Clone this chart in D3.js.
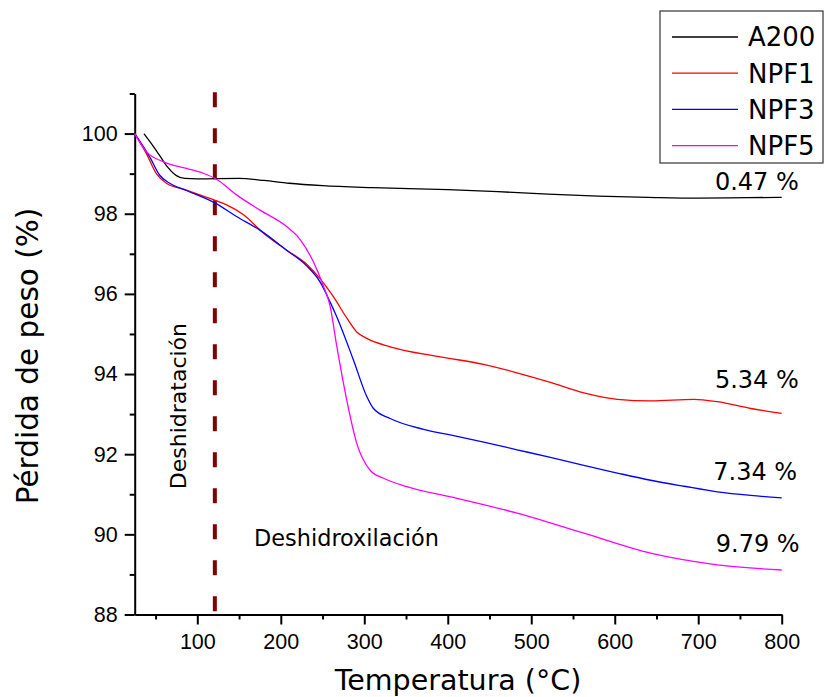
<!DOCTYPE html>
<html>
<head>
<meta charset="utf-8">
<script src="https://cdn.jsdelivr.net/npm/d3@7"></script>
<style>
  body { margin: 0; background: #fff; }
  svg { display: block; font-family: "DejaVu Sans", Verdana, sans-serif; }
</style>
</head>
<body>
<svg id="chart" width="825" height="697"></svg>
<script>
// series names and colours (legend order)
const seriesNames = ['A200', 'NPF1', 'NPF3', 'NPF5'];
const seriesColors = ['#000000', '#ff0000', '#0000ff', '#ff00ff'];

// [temperature °C, weight %]
const a200 = [[36, 100.0], [45, 99.75], [55, 99.45], [65, 99.15], [75, 98.95], [85, 98.88], [100, 98.87],
  [150, 98.88], [180, 98.83], [210, 98.76], [250, 98.70], [310, 98.65], [400, 98.60], [460, 98.55],
  [520, 98.49], [580, 98.44], [640, 98.41], [700, 98.39], [760, 98.40], [800, 98.41]];
const npf1 = [[25, 100.0], [39, 99.5], [51, 99.0], [63, 98.76], [87, 98.59], [107, 98.44], [123, 98.32],
  [135, 98.22], [155, 97.98], [179, 97.52], [207, 97.09], [231, 96.74], [247, 96.38], [263, 95.93],
  [279, 95.40], [291, 95.05], [303, 94.89], [331, 94.68], [391, 94.43], [443, 94.24], [483, 94.03],
  [523, 93.79], [563, 93.53], [603, 93.37], [643, 93.33], [695, 93.37], [723, 93.31], [763, 93.14], [800, 93.02]];
const npf3 = [[25, 100.0], [43, 99.42], [55, 98.96], [67, 98.76], [87, 98.58], [122, 98.26], [147, 97.93],
  [175, 97.59], [207, 97.09], [231, 96.70], [247, 96.30], [259, 95.80], [267, 95.43], [287, 94.35],
  [303, 93.44], [311, 93.14], [331, 92.89], [371, 92.62], [403, 92.48], [443, 92.30], [483, 92.11],
  [523, 91.92], [563, 91.72], [603, 91.53], [643, 91.35], [683, 91.20], [723, 91.06], [763, 90.97], [800, 90.91]];
const npf5 = [[25, 100.0], [39, 99.55], [59, 99.30], [87, 99.13], [107, 99.01], [123, 98.86], [147, 98.47],
  [175, 98.09], [207, 97.68], [223, 97.36], [239, 96.80], [251, 96.20], [259, 95.70], [267, 94.70],
  [279, 93.35], [291, 92.27], [307, 91.60], [323, 91.40], [351, 91.19], [411, 90.90], [483, 90.53],
  [563, 90.03], [643, 89.53], [723, 89.24], [800, 89.11]];
const seriesData = [a200, npf1, npf3, npf5];

// mass-loss labels: [text, temperature, weight]
const lossLabels = [['0.47 %', 720, 98.59], ['5.34 %', 720, 93.64], ['7.34 %', 718, 91.36], ['9.79 %', 721, 89.57]];

const xTicks = [100, 200, 300, 400, 500, 600, 700, 800];
const xMinor = [50, 150, 250, 350, 450, 550, 650, 750];
const yTicks = [88, 90, 92, 94, 96, 98, 100];
const yMinor = [89, 91, 93, 95, 97, 99, 101];
const dehydrationLimit = 121;

const svg = d3.select('#chart');

const x = d3.scaleLinear().domain([25, 800]).range([134.7, 781.7]);
const y = d3.scaleLinear().domain([88, 101]).range([614.5, 93.5]);

function styleAxis(g) {
  g.select('.domain').attr('stroke', '#000').attr('stroke-width', 2);
  g.selectAll('.tick line').attr('stroke', '#000').attr('stroke-width', 2);
  g.selectAll('.tick text').attr('fill', '#000').style('font-size', '21.5px');
}

// minor ticks first, major axes on top
svg.append('g')
  .attr('transform', `translate(0,${y(88)})`)
  .call(d3.axisBottom(x).tickValues(xMinor).tickSize(5).tickFormat(''))
  .call(g => g.select('.domain').remove())
  .call(g => g.selectAll('.tick line').attr('stroke', '#000').attr('stroke-width', 2));

svg.append('g')
  .attr('transform', `translate(${x(25)},0)`)
  .call(d3.axisLeft(y).tickValues(yMinor).tickSize(5).tickFormat(''))
  .call(g => g.select('.domain').remove())
  .call(g => g.selectAll('.tick line').attr('stroke', '#000').attr('stroke-width', 2));

svg.append('g')
  .attr('transform', `translate(0,${y(88)})`)
  .call(d3.axisBottom(x).tickValues(xTicks).tickSize(10).tickSizeOuter(0).tickPadding(9))
  .call(styleAxis);

svg.append('g')
  .attr('transform', `translate(${x(25)},0)`)
  .call(d3.axisLeft(y).tickValues(yTicks).tickSize(10).tickSizeOuter(0).tickPadding(7))
  .call(styleAxis);

// axis titles
svg.append('text')
  .attr('x', 458)
  .attr('y', 690)
  .attr('text-anchor', 'middle')
  .style('font-size', '28.5px')
  .text('Temperatura (°C)');

svg.append('text')
  .attr('transform', 'translate(38,356) rotate(-90)')
  .attr('text-anchor', 'middle')
  .style('font-size', '29.5px')
  .text('Pérdida de peso (%)');

// dehydration limit
svg.append('line')
  .attr('x1', x(dehydrationLimit))
  .attr('x2', x(dehydrationLimit))
  .attr('y1', y(101) - 1.2)
  .attr('y2', y(88))
  .attr('stroke', '#800000')
  .attr('stroke-width', 4)
  .attr('stroke-dasharray', '15 21');

// curves
const line = d3.line()
  .x(d => x(d[0]))
  .y(d => y(d[1]))
  .curve(d3.curveMonotoneX);

svg.append('g')
  .selectAll('path')
  .data(seriesData)
  .join('path')
  .attr('d', line)
  .attr('fill', 'none')
  .attr('stroke', (d, i) => seriesColors[i])
  .attr('stroke-width', 1.3);

// region annotations
svg.append('text')
  .attr('transform', `translate(${x(86.5)},${y(93.2)}) rotate(-90)`)
  .attr('text-anchor', 'middle')
  .style('font-size', '22px')
  .text('Deshidratación');

svg.append('text')
  .attr('x', x(168))
  .attr('y', y(89.71))
  .style('font-size', '22.4px')
  .text('Deshidroxilación');

svg.append('g')
  .selectAll('text')
  .data(lossLabels)
  .join('text')
  .attr('x', d => x(d[1]))
  .attr('y', d => y(d[2]))
  .style('font-size', '24px')
  .text(d => d[0]);

// legend
const legend = svg.append('g').attr('transform', 'translate(660,11)');
legend.append('rect')
  .attr('width', 163)
  .attr('height', 152)
  .attr('fill', '#fff')
  .attr('stroke', '#333')
  .attr('stroke-width', 1.2);

const item = legend.selectAll('.item')
  .data(seriesNames)
  .join('g')
  .attr('class', 'item')
  .attr('transform', (d, i) => `translate(0,${26 + i * 36.2})`);

item.append('line')
  .attr('x1', 12)
  .attr('x2', 78)
  .attr('stroke', (d, i) => seriesColors[i])
  .attr('stroke-width', 1.3);

item.append('text')
  .attr('x', 88)
  .attr('dy', '0.36em')
  .style('font-size', '26px')
  .text(d => d);
</script>
</body>
</html>
